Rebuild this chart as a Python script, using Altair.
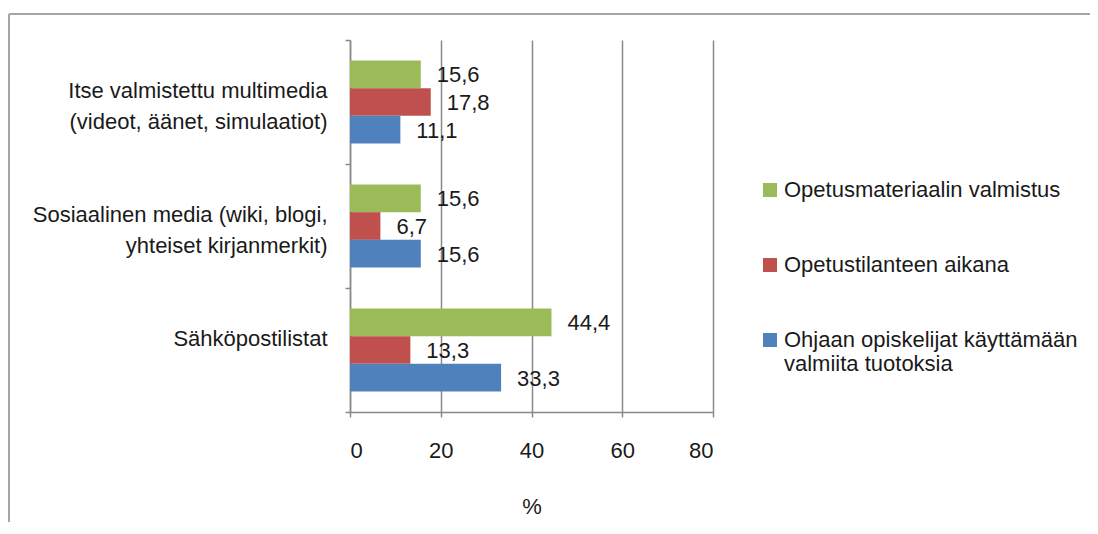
import altair as alt
import pandas as pd

categories = [
    "Itse valmistettu multimedia|(videot, äänet, simulaatiot)",
    "Sosiaalinen media (wiki, blogi,|yhteiset kirjanmerkit)",
    "Sähköpostilistat",
]
series = [
    "Opetusmateriaalin valmistus",
    "Opetustilanteen aikana",
    "Ohjaan opiskelijat käyttämään|valmiita tuotoksia",
]
green_values = [15.6, 15.6, 44.4]
red_values = [17.8, 6.7, 13.3]
blue_values = [11.1, 15.6, 33.3]
colors = ["#9BBB59", "#C0504D", "#4F81BD"]
x_ticks = [0, 20, 40, 60, 80]

rows = []
for s, vals in zip(series, [green_values, red_values, blue_values]):
    for c, v in zip(categories, vals):
        rows.append({"category": c, "series": s, "value": v,
                     "label": f"{v:.1f}".replace(".", ",")})
df = pd.DataFrame(rows)

FONT = "Liberation Sans"
GRAY = "#8a8a8a"
TXT = "#1a1a1a"

y_axis = alt.Axis(
    title=None,
    labelExpr="split(datum.label, '|')",
    labelAlign="right",
    labelBaseline="middle",
    labelOffset=-12,
    labelPadding=18,
    labelLineHeight=31,
    labelLimit=400,
    labelFont=FONT,
    labelFontSize=22,
    labelColor=TXT,
    tickBand="extent",
    tickSize=5,
    tickColor=GRAY,
    tickWidth=1.5,
    domainColor=GRAY,
    domainWidth=1.5,
    grid=False,
)

x_axis = alt.Axis(
    values=x_ticks,
    title="%",
    titleFont=FONT,
    titleFontSize=22,
    titleFontWeight="normal",
    titleColor=TXT,
    titlePadding=35,
    labelFont=FONT,
    labelFontSize=22,
    labelColor=TXT,
    labelPadding=23,
    tickSize=5,
    tickColor=GRAY,
    tickWidth=1.5,
    domainColor=GRAY,
    domainWidth=1.5,
    grid=True,
    gridColor=GRAY,
    gridWidth=1.5,
)

y_enc = alt.Y("category:N", sort=categories,
              scale=alt.Scale(paddingInner=0, paddingOuter=0), axis=y_axis)
yoff_enc = alt.YOffset("series:N", sort=series,
                       scale=alt.Scale(paddingInner=0, paddingOuter=0.74))
x_enc = alt.X("value:Q", scale=alt.Scale(domain=[0, 80], nice=False), axis=x_axis)

bars = alt.Chart(df).mark_bar().encode(
    x=x_enc,
    y=y_enc,
    yOffset=yoff_enc,
    color=alt.Color(
        "series:N",
        sort=series,
        scale=alt.Scale(domain=series, range=colors),
        legend=alt.Legend(
            title=None,
            orient="none",
            legendX=409,
            legendY=139,
            symbolType="square",
            symbolSize=196,
            symbolStrokeWidth=0,
            labelFont=FONT,
            labelFontSize=22,
            labelColor=TXT,
            labelOffset=3,
            labelLimit=500,
            rowPadding=53,
            labelExpr="split(datum.label, '|')",
        ),
    ),
)

text = alt.Chart(df).mark_text(
    align="left", baseline="middle", dx=16, dy=1,
    font=FONT, fontSize=22, color=TXT,
).encode(
    x=alt.X("value:Q"),
    y=alt.Y("category:N", sort=categories),
    yOffset=alt.YOffset("series:N", sort=series),
    text="label:N",
)

frame_data = alt.Data(values=[{}])
frame_top = alt.Chart(frame_data).mark_rule(color="#a6a6a6", strokeWidth=2).encode(
    x=alt.value(-341), x2=alt.value(740), y=alt.value(-26)
)
frame_left = alt.Chart(frame_data).mark_rule(color="#a6a6a6", strokeWidth=2).encode(
    x=alt.value(-341), y=alt.value(-26), y2=alt.value(520)
)

chart = alt.layer(bars, text, frame_top, frame_left).properties(
    width=363,
    height=372,
    autosize=alt.AutoSizeParams(type="none"),
    padding={"left": 342, "top": 32, "right": 377, "bottom": 110},
).configure_view(stroke=None)

chart.save("out.html", embed_options={"renderer": "svg", "actions": False})
